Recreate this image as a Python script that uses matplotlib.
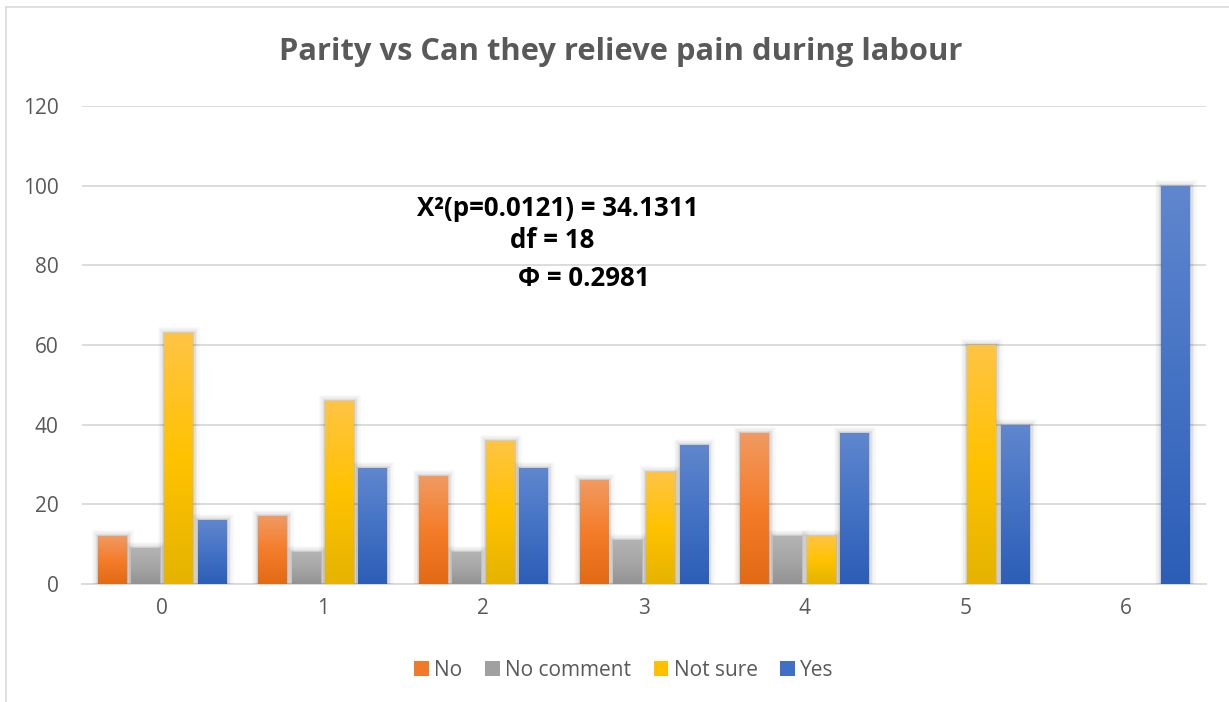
import numpy as np
import matplotlib
matplotlib.use("Agg")
import matplotlib.pyplot as plt
from matplotlib.colors import LinearSegmentedColormap
from matplotlib import patheffects as pe
from matplotlib.lines import Line2D
from matplotlib.patches import Patch

plt.rcParams['font.family'] = ['Open Sans', 'DejaVu Sans']

# Data
categories = ['0', '1', '2', '3', '4', '5', '6']
series_names = ['No', 'No comment', 'Not sure', 'Yes']
no_vals = [12, 17, 27, 26, 38, 0, 0]
no_comment_vals = [9, 8, 8, 11, 12, 0, 0]
not_sure_vals = [63, 46, 36, 28, 12, 60, 0]
yes_vals = [16, 29, 29, 35, 38, 40, 100]
y_ticks = [0, 20, 40, 60, 80, 100, 120]

series_values = [no_vals, no_comment_vals, not_sure_vals, yes_vals]
# gradient colours (top, middle, bottom) and legend colour per series
gradients = [
    ('#F09A62', '#F47D2A', '#E36A14'),
    ('#B3B3B3', '#A6A6A6', '#939393'),
    ('#FFC445', '#FFC200', '#E5B300'),
    ('#6087CE', '#4472C4', '#2C5EB7'),
]
legend_colors = ['#F07A2A', '#A0A0A0', '#FFC000', '#4070C4']

W, H = 1229, 702
fig = plt.figure(figsize=(W / 100, H / 100), dpi=100)
fig.patch.set_facecolor('white')

# chart border (left and top edges)
fig.add_artist(Line2D([6 / W, 6 / W], [0, 1 - 7 / H], transform=fig.transFigure,
                      color='#D9D9D9', lw=1.2))
fig.add_artist(Line2D([6 / W, 1], [1 - 7 / H, 1 - 7 / H], transform=fig.transFigure,
                      color='#D9D9D9', lw=1.2))

left, right, top, bottom = 82, 1206, 106, 584
ax = fig.add_axes([left / W, 1 - bottom / H, (right - left) / W, (bottom - top) / H])
ax.set_facecolor('none')

x = np.arange(len(categories))
slot = 0.2075
bar_w = 0.18
n = len(series_names)

shadow = [pe.Stroke(linewidth=9, foreground='black', alpha=0.03),
          pe.Stroke(linewidth=6, foreground='black', alpha=0.04),
          pe.Stroke(linewidth=3.5, foreground='black', alpha=0.06),
          pe.Stroke(linewidth=1.5, foreground='black', alpha=0.08),
          pe.Normal()]

for i, (name, vals) in enumerate(zip(series_names, series_values)):
    offs = (i - (n - 1) / 2) * slot
    bars = ax.bar(x + offs, vals, width=bar_w, color=legend_colors[i],
                  linewidth=0, zorder=3, label=name)
    cmap = LinearSegmentedColormap.from_list(name, list(gradients[i][::-1]))
    grad = np.linspace(0, 1, 256).reshape(-1, 1)
    for b, v in zip(bars, vals):
        if v <= 0:
            b.set_visible(False)
            continue
        b.set_path_effects(shadow)
        x0 = b.get_x()
        im = ax.imshow(grad, extent=[x0, x0 + b.get_width(), 0, v], origin='lower',
                       aspect='auto', cmap=cmap, zorder=4, interpolation='bilinear')
        im.set_clip_path(b)

ax.set_xlim(-0.5, len(categories) - 0.5)
ax.set_ylim(0, 120)
ax.set_yticks(y_ticks)
ax.set_xticks(x)
ax.set_xticklabels(categories)
ax.grid(axis='y', color='#D9D9D9', lw=1.3, zorder=0)
ax.set_axisbelow(True)
for s in ['top', 'right', 'left']:
    ax.spines[s].set_visible(False)
ax.spines['bottom'].set_color('#D9D9D9')
ax.spines['bottom'].set_linewidth(1.3)
ax.tick_params(axis='both', length=0, labelsize=15, labelcolor='#595959')
ax.tick_params(axis='y', pad=17)
ax.tick_params(axis='x', pad=10)

fig.text(621 / W, 1 - 52 / H, 'Parity vs Can they relieve pain during labour',
         ha='center', va='center', fontsize=22.2, fontweight='bold', color='#595959')

stat_kw = dict(ha='center', va='center', fontsize=18.6, fontweight='bold', color='black',
               transform=fig.transFigure)
fig.text(558 / W, 1 - 209 / H, 'X\u00b2(p=0.0121) = 34.1311', **stat_kw)
fig.text(552 / W, 1 - 241 / H, 'df = 18', **stat_kw)
fig.text(584 / W, 1 - 279 / H, '\u03a6 = 0.2981', **stat_kw)

handles = [Patch(facecolor=c, edgecolor='none') for c in legend_colors]
fig.legend(handles, series_names, loc='center', bbox_to_anchor=(624 / W, 1 - 670 / H),
           ncol=4, frameon=False, fontsize=15, handlelength=0.7, handleheight=0.7,
           handletextpad=0.25, columnspacing=1.1, labelcolor='#595959')

fig.savefig('out.png', dpi=100, facecolor='white')
